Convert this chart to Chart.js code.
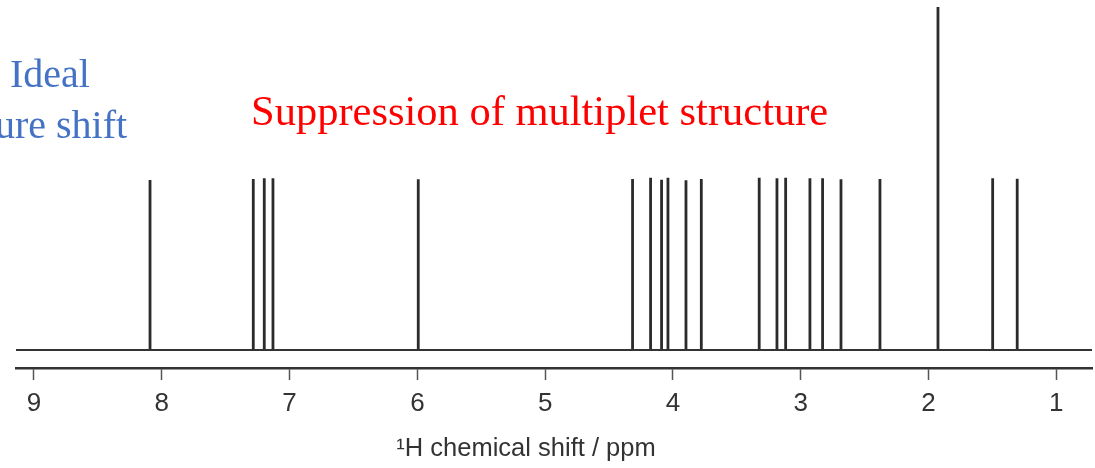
<!DOCTYPE html>
<html>
<head>
<meta charset="utf-8">
<script src="https://cdn.jsdelivr.net/npm/chart.js@4"></script>
<style>
  body { margin: 0; background: #fff; }
  #wrap { width: 1095px; height: 468px; }
</style>
</head>
<body>
<div id="wrap"><canvas id="myChart"></canvas></div>
<script>
// peak positions (ppm) and relative heights
let peakShifts = [8.092, 7.284, 7.198, 7.130, 5.993, 4.316, 4.175, 4.089, 4.039, 3.898, 3.778,
  3.325, 3.186, 3.118, 2.928, 2.829, 2.685, 2.380, 1.926, 1.498, 1.306];
let peakHeights = [0.994, 1.000, 1.004, 1.004, 0.998, 1.000, 1.008, 0.996, 1.008, 0.992, 1.000,
  1.008, 1.004, 1.008, 1.004, 1.004, 0.998, 1.000, 2.006, 1.004, 1.002];
let tickValues = [9, 8, 7, 6, 5, 4, 3, 2, 1];
let axisRange = [0.7207, 9.1408];

let ctx = document.getElementById('myChart');

// vertical sticks, separated by gaps
let sticks = [];
peakShifts.forEach(function (p, i) {
  sticks.push({ x: p, y: 0 });
  sticks.push({ x: p, y: peakHeights[i] });
  sticks.push({ x: p, y: null });
});
let baseline = [{ x: axisRange[1], y: 0 }, { x: axisRange[0], y: 0 }];

let textPlugin = {
  id: 'labels',
  afterDraw: function (chart) {
    let c = chart.ctx;
    c.save();
    c.textBaseline = 'alphabetic';
    c.fillStyle = '#4472C4';
    c.font = '40px "Liberation Serif", "Times New Roman", serif';
    c.textAlign = 'center';
    c.fillText('Ideal', 50, 87);
    c.fillText('pure shift', 51, 138);
    c.fillStyle = '#FF0000';
    c.font = '42.5px "Liberation Serif", "Times New Roman", serif';
    c.textAlign = 'left';
    c.fillText('Suppression of multiplet structure', 251, 125);
    c.fillStyle = '#333';
    c.font = '25.5px "Liberation Sans", Arial, sans-serif';
    c.textAlign = 'center';
    c.fillText('\u00B9H chemical shift / ppm', 526, 456);
    c.restore();
  }
};

new Chart(ctx, {
  type: 'scatter',
  data: {
    datasets: [{
      data: baseline,
      showLine: true,
      borderColor: '#333',
      borderWidth: 2,
      pointRadius: 0
    }, {
      data: sticks,
      showLine: true,
      spanGaps: false,
      borderColor: '#2b2b2b',
      borderWidth: 2.8,
      borderCapStyle: 'butt',
      pointRadius: 0
    }]
  },
  options: {
    responsive: true,
    maintainAspectRatio: false,
    animation: false,
    layout: { padding: { left: 16, right: 3, top: 0, bottom: 0 } },
    plugins: { legend: { display: false }, tooltip: { enabled: false } },
    scales: {
      x: {
        type: 'linear',
        reverse: true,
        min: axisRange[0],
        max: axisRange[1],
        afterBuildTicks: function (scale) {
          scale.ticks = tickValues.map(function (v) { return { value: v }; });
        },
        afterFit: function (scale) { scale.height = 100; },
        grid: {
          drawOnChartArea: false,
          drawTicks: true,
          tickLength: 12,
          tickColor: '#555',
          tickWidth: 1.5
        },
        border: { display: true, color: '#333', width: 2.4 },
        ticks: {
          color: '#333',
          padding: 8,
          maxRotation: 0,
          font: { family: '"Liberation Sans", Arial, sans-serif', size: 26 }
        }
      },
      y: {
        display: false,
        min: -0.1053,
        max: 2.0468
      }
    }
  },
  plugins: [textPlugin]
});
</script>
</body>
</html>
